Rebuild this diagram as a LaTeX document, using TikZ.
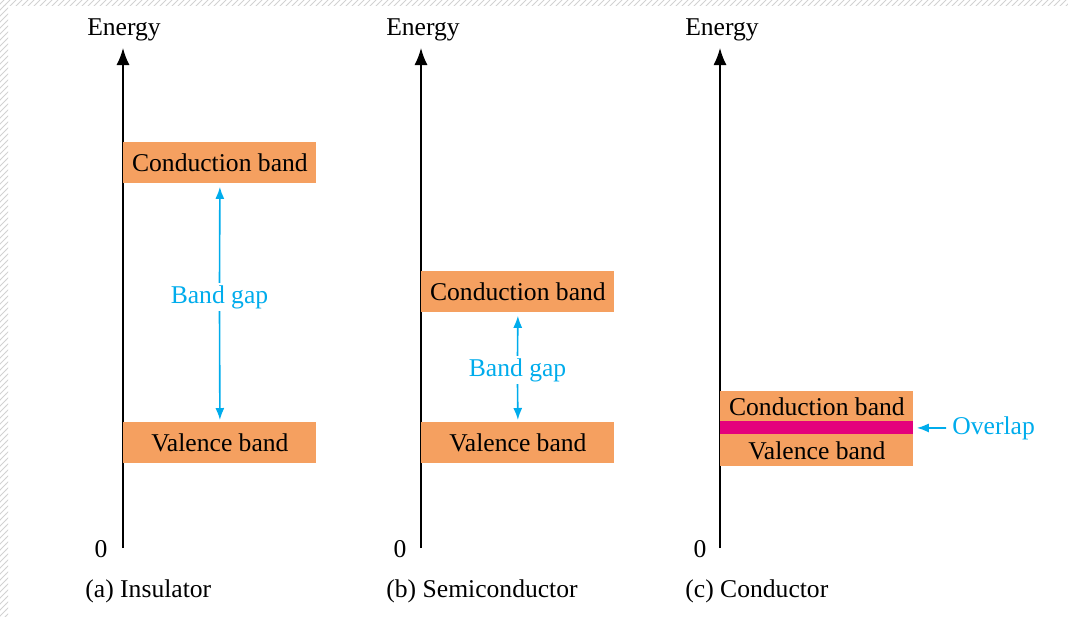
\documentclass[tikz,border=0pt]{standalone}
\usepackage{xcolor}
\usepackage{fontspec}
\setmainfont{Liberation Serif}
\usepackage{tikz}
\usetikzlibrary{positioning,arrows.meta,patterns}

\definecolor{bandorange}{RGB}{245,160,96}
\definecolor{gapcyan}{RGB}{0,172,236}
\definecolor{overlapmag}{RGB}{228,0,124}

\tikzset{
  band/.style={fill=bandorange, minimum width=96.5pt, minimum height=20.5pt,
    inner sep=0pt, anchor=north west},
  thinband/.style={band, minimum height=15.5pt},
  axis/.style={line width=0.75pt, -{Latex[length=8.5pt,width=6.5pt]}},
  caption/.style={anchor=base west, inner sep=0pt},
  gaplabel/.style={text=gapcyan, inner sep=1pt},
  gaparrow/.style={gapcyan, line width=0.8pt, -{Latex[length=6pt,width=4.5pt]}},
}

\begin{document}
\begin{tikzpicture}[x=0.5pt, y=-0.5pt, font=\fontsize{12.8}{15}\selectfont]
\useasboundingbox (0,0) rectangle (1068,616);
% page edge
\fill[pattern=north east lines, pattern color=gray!35] (0,0) rectangle (1068,5);
\fill[pattern=north east lines, pattern color=gray!35] (0,5) rectangle (8,616);

% (a) insulator
\coordinate (a0) at (123,548);
\coordinate (atop) at (123,48);
\draw[axis] (a0) -- (atop);
\node[anchor=base] (aen) at (124,35) {Energy};
\node[anchor=base] (azero) at (101,557) {0};
\node[caption] (acap) at (85,597) {(a) Insulator};
\node[band] (acb) at (123,142) {Conduction band};
\node[band] (avb) at (123,422) {Valence band};
\node[gaplabel] (agap) at (219.5,297) {Band gap};
\draw[gaparrow, shorten >=1.5pt] (agap.north) -- (acb.south);
\draw[gaparrow, shorten >=1pt] (agap.south) -- (avb.north);

% (b) semiconductor
\coordinate (b0) at (421,548);
\coordinate (btop) at (421,48);
\draw[axis] (b0) -- (btop);
\node[anchor=base] (ben) at (423,35) {Energy};
\node[anchor=base] (bzero) at (400,557) {0};
\node[caption] (bcap) at (386,597) {(b) Semiconductor};
\node[band] (bcb) at (421,271) {Conduction band};
\node[band] (bvb) at (421,422) {Valence band};
\node[gaplabel] (bgap) at (517.5,370) {Band gap};
\draw[gaparrow, shorten >=1.5pt] (bgap.north) -- (bcb.south);
\draw[gaparrow, shorten >=1pt] (bgap.south) -- (bvb.north);

% (c) conductor
\coordinate (c0) at (720,548);
\coordinate (ctop) at (720,48);
\draw[axis] (c0) -- (ctop);
\node[anchor=base] (cen) at (722,35) {Energy};
\node[anchor=base] (czero) at (700,557) {0};
\node[caption] (ccap) at (685,597) {(c) Conductor};
\node[thinband] (ccb) at (720,391) {Conduction band};
\node[band, fill=overlapmag, minimum height=6.5pt] (covl) at (720,421) {};
\node[thinband, minimum height=16pt] (cvb) at (720,434) {Valence band};
\node[gaplabel, anchor=west] (clap) at (950,428) {Overlap};
\draw[gaparrow, shorten >=1.5pt] ([xshift=-2pt]clap.west) -- (covl.east);
\end{tikzpicture}
\end{document}
